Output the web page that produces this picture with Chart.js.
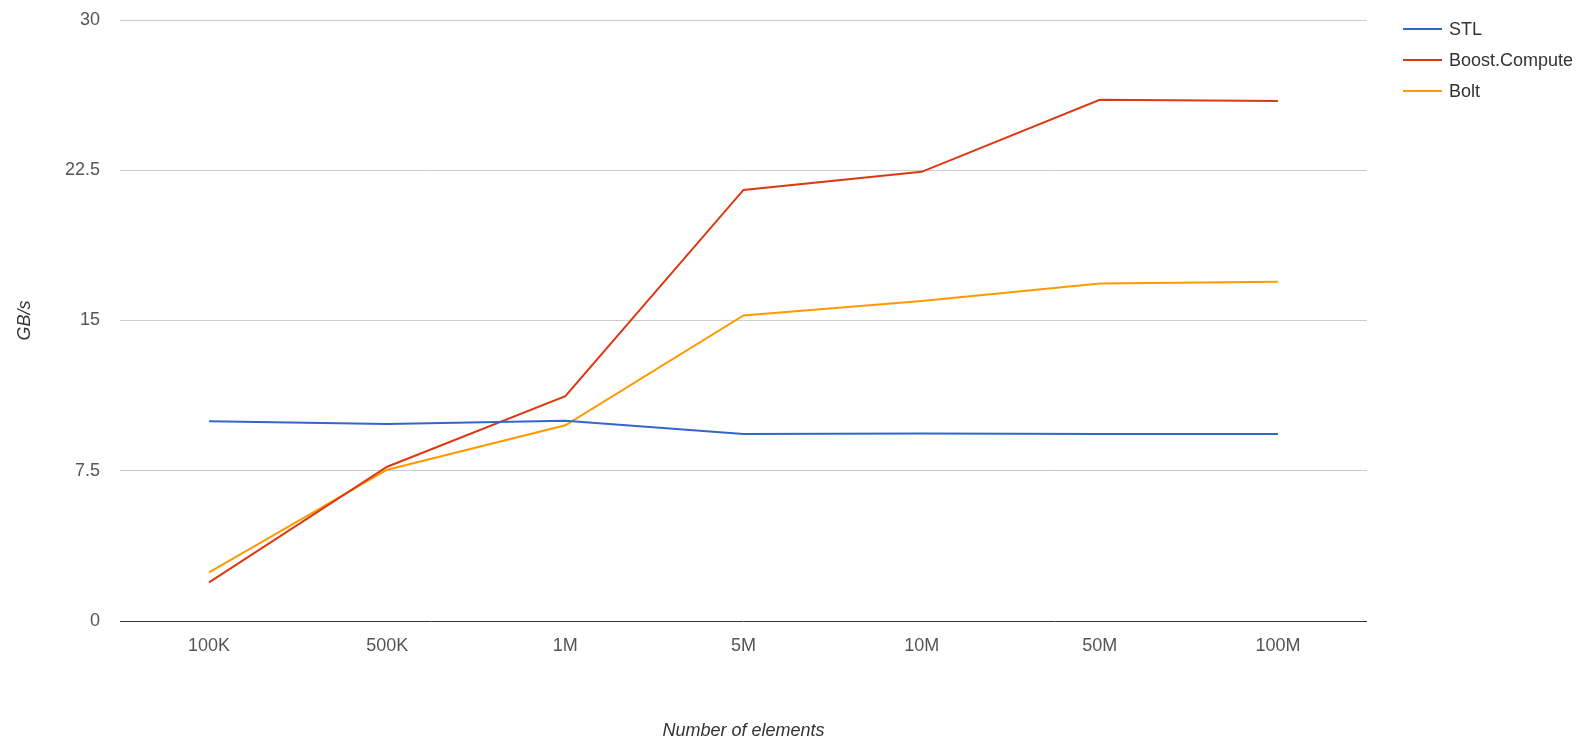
<!DOCTYPE html>
<html>
<head>
<meta charset="utf-8">
<script src="https://cdn.jsdelivr.net/npm/chart.js@4"></script>
<style>
  html, body { margin: 0; padding: 0; background: #fff; }
  #wrap { width: 1585px; height: 751px; }
</style>
</head>
<body>
<div id="wrap"><canvas id="bandwidthGraph"></canvas></div>
<script>
  const categories = ['100K', '500K', '1M', '5M', '10M', '50M', '100M'];

  const stlValues = [9.97, 9.83, 10.0, 9.33, 9.36, 9.33, 9.33];
  const boostValues = [1.93, 7.7, 11.22, 21.52, 22.42, 26.02, 25.96];
  const boltValues = [2.43, 7.55, 9.77, 15.25, 15.97, 16.85, 16.94];

  const seriesNames = ['STL', 'Boost.Compute', 'Bolt'];
  const seriesColors = ['#3366cc', '#dc3912', '#ff9900'];

  const fontFamily = '"Liberation Sans", Arial, sans-serif';
  const fontSize = 18;

  // small legend in the top right, drawn by hand
  const sideLegend = {
    id: 'sideLegend',
    afterDraw(chart) {
      const ctx = chart.ctx;
      ctx.save();
      ctx.font = fontSize + 'px ' + fontFamily;
      ctx.textBaseline = 'middle';
      chart.data.datasets.forEach((ds, i) => {
        const y = 29 + i * 31;
        ctx.strokeStyle = ds.borderColor;
        ctx.lineWidth = 2;
        ctx.beginPath();
        ctx.moveTo(1403, y);
        ctx.lineTo(1442, y);
        ctx.stroke();
        ctx.fillStyle = '#333';
        ctx.fillText(ds.label, 1449, y + 1);
      });
      ctx.restore();
    }
  };

  const data = {
    labels: categories,
    datasets: [stlValues, boostValues, boltValues].map((vals, i) => ({
      label: seriesNames[i],
      data: vals,
      borderColor: seriesColors[i],
      backgroundColor: seriesColors[i],
      borderWidth: 2,
      pointRadius: 0,
      tension: 0,
    }))
  };

  const config = {
    type: 'line',
    data: data,
    options: {
      responsive: true,
      maintainAspectRatio: false,
      animation: false,
      layout: {
        padding: { top: 0, right: 218, left: 0, bottom: 0 }
      },
      plugins: {
        legend: { display: false },
        title: { display: false },
        tooltip: { enabled: false },
      },
      scales: {
        y: {
          min: 0,
          max: 30,
          afterFit(scale) {
            scale.width = 120;
            scale.paddingTop = 20;
          },
          ticks: {
            stepSize: 7.5,
            padding: 20,
            color: '#555',
            font: { family: fontFamily, size: fontSize },
          },
          grid: {
            drawTicks: false,
            color: (c) => c.tick && c.tick.value === 0 ? '#333' : '#ccc',
          },
          border: { display: false },
          title: {
            display: true,
            text: 'GB/s',
            color: '#333',
            padding: { top: 14 },
            font: { family: fontFamily, size: fontSize, style: 'italic' },
          },
        },
        x: {
          offset: true,
          afterFit(scale) { scale.height = 130; },
          ticks: {
            padding: 14,
            color: '#555',
            maxRotation: 0,
            font: { family: fontFamily, size: fontSize },
          },
          grid: { display: false, drawTicks: false },
          border: { display: false },
          title: {
            display: true,
            text: 'Number of elements',
            color: '#333',
            padding: { bottom: 9 },
            font: { family: fontFamily, size: fontSize, style: 'italic' },
          },
        }
      }
    },
    plugins: [sideLegend]
  };

  const chart = new Chart(
    document.getElementById('bandwidthGraph'),
    config
  );
</script>
</body>
</html>
